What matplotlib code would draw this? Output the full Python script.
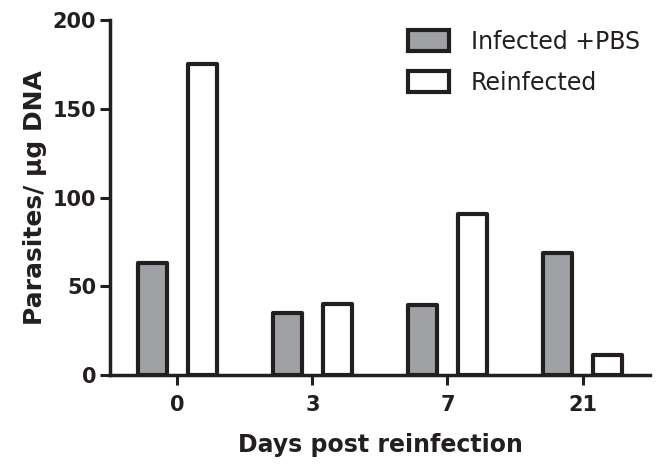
import matplotlib
matplotlib.use("Agg")
import matplotlib.pyplot as plt
import numpy as np

# Data
days = ["0", "3", "7", "21"]
infected_pbs = [63, 35, 39.5, 69]
reinfected = [175, 40, 91, 11.5]

plt.rcParams["font.family"] = ["DejaVu Sans"]

edge = "#231f20"
gray = "#a0a1a4"

fig = plt.figure(figsize=(6.66, 4.66), dpi=100)
ax = fig.add_axes([0.165, 0.195, 0.811, 0.762])

x = np.arange(len(days))
offset = 0.186
width = 0.215
ax.bar(x - offset, infected_pbs, width, color=gray, edgecolor=edge,
       linewidth=3, label="Infected +PBS", zorder=3, joinstyle="round")
ax.bar(x + offset, reinfected, width, color="white", edgecolor=edge,
       linewidth=3, label="Reinfected", zorder=3, joinstyle="round")

ax.set_xlim(-0.5, 3.5)
ax.set_ylim(0, 200)
ax.set_yticks([0, 50, 100, 150, 200])
ax.set_xticks(x)
ax.set_xticklabels(days)

for s in ["top", "right"]:
    ax.spines[s].set_visible(False)
for s in ["left", "bottom"]:
    ax.spines[s].set_linewidth(2.5)
    ax.spines[s].set_color(edge)
    ax.spines[s].set_zorder(4)

ax.tick_params(axis="both", width=2.2, length=7, color=edge,
               labelsize=15, pad=3, labelcolor=edge)
ax.tick_params(axis="x", pad=7)
for lab in ax.get_xticklabels() + ax.get_yticklabels():
    lab.set_fontweight("bold")

ax.set_ylabel("Parasites/ µg DNA", fontsize=18, fontweight="bold",
              color=edge, labelpad=4)
ax.set_xlabel("Days post reinfection", fontsize=17, fontweight="bold",
              color=edge, labelpad=13.5)

leg = fig.legend(*ax.get_legend_handles_labels(), loc="upper left",
                 bbox_to_anchor=(408 / 666, 1 - 30 / 466), frameon=False,
                 fontsize=17, handlelength=1.75, handleheight=1.0,
                 handletextpad=0.9, labelspacing=0.7, borderpad=0,
                 borderaxespad=0)
for t in leg.get_texts():
    t.set_color(edge)

fig.savefig("out.png", dpi=100)
